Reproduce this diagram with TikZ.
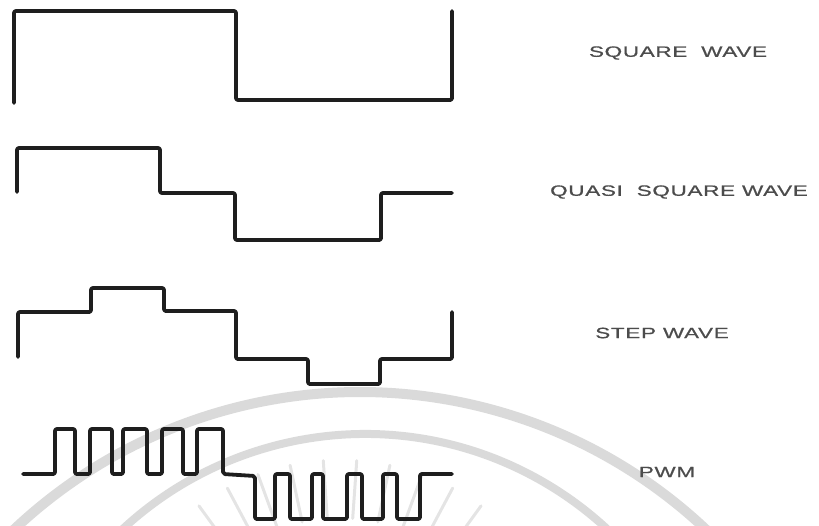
\documentclass[tikz,border=0pt]{standalone}
\usepackage{fontspec}
\newfontfamily\lblfont[LetterSpace=3,FakeBold=0.6]{Liberation Sans}
\definecolor{wavecol}{HTML}{1E1E1E}
\definecolor{wmark}{HTML}{DADADA}
\definecolor{wray}{HTML}{E4E4E4}
\newcommand{\widetxt}[1]{\scalebox{1.5}[1]{#1}}
\begin{document}
\begin{tikzpicture}[x=1pt,y=-1pt,
  wave/.style={draw=wavecol,line width=3.8pt,line join=round,line cap=round,rounded corners=2pt},
  lbl/.style={inner sep=0pt,text=black!70,font=\lblfont\fontsize{15}{18}\selectfont},
  wm/.style={draw=wmark,line width=10pt},
  ray/.style={draw=wray,line width=3pt,line cap=round}]
\useasboundingbox (0,0) rectangle (819,525);
% faint watermark
\begin{scope}
\clip (0,0) rectangle (819,525);
\draw[wm] (360,896) ++(-142:504) arc[start angle=-142,end angle=-38,radius=504];
\draw[wm,line width=8pt] (365,790) ++(-150:356) arc[start angle=-150,end angle=-30,radius=356];
\foreach \a in {-126,-118,...,-54}
  \draw[ray] (340,700) ++(\a:182) -- ++(\a:58);
\end{scope}
% square wave
\draw[wave] (14,103) -- (14,11) -- (236,11) -- (236,100) -- (452,100) -- (452,11);
% quasi square wave
\draw[wave] (17,192) -- (17,148) -- (160,148) -- (160,193) -- (235,193) -- (235,240)
  -- (381,240) -- (381,193) -- (452,193);
% step wave
\draw[wave] (18,357) -- (18,312) -- (91,312) -- (91,288) -- (164,288) -- (164,311)
  -- (236,311) -- (236,359) -- (308,359) -- (308,384) -- (380,384) -- (380,359)
  -- (452,359) -- (452,312);
% PWM
\draw[wave] (23,474) -- (55,474) -- (55,429) -- (75,429) -- (75,474) -- (90,474)
  -- (90,429) -- (112,429) -- (112,474) -- (123,474) -- (123,429) -- (147,429)
  -- (147,474) -- (162,474) -- (162,429) -- (183,429) -- (183,474) -- (197,474)
  -- (197,429) -- (223,429) -- (223,474) -- (255,476) -- (255,519) -- (275,519)
  -- (275,474) -- (290,474) -- (290,519) -- (312,519) -- (312,474) -- (323,474)
  -- (323,519) -- (347,519) -- (347,474) -- (362,474) -- (362,519) -- (383,519)
  -- (383,474) -- (397,474) -- (397,519) -- (420,519) -- (420,474) -- (452,474);
% labels
\node[lbl] (lsq) at (678,53) {\widetxt{SQUARE\ \ WAVE}};
\node[lbl] (lqs) at (679,192) {\widetxt{QUASI\ \ SQUARE WAVE}};
\node[lbl] (lst) at (662,333) {\widetxt{STEP WAVE}};
\node[lbl] (lpw) at (667,472) {\widetxt{PWM}};
\end{tikzpicture}
\end{document}
